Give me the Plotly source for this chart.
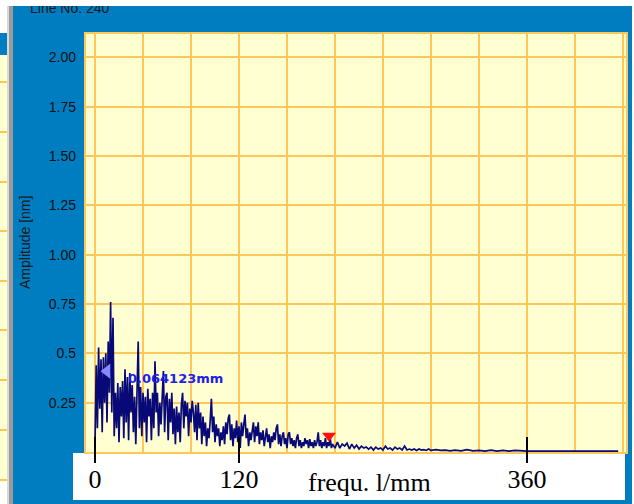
import plotly.graph_objects as go

# ---------------- data ----------------
freq = [
    0, 1, 2, 3, 4, 5, 6, 7, 8, 9,
    10, 11, 12, 13, 14, 15, 16, 17, 18, 19,
    20, 21, 22, 23, 24, 25, 26, 27, 28, 29,
    30, 31, 32, 33, 34, 35, 36, 37, 38, 39,
    40, 41, 42, 43, 44, 45, 46, 47, 48, 49,
    50, 51, 52, 53, 54, 55, 56, 57, 58, 59,
    60, 61, 62, 63, 64, 65, 66, 67, 68, 69,
    70, 71, 72, 73, 74, 75, 76, 77, 78, 79,
    80, 81, 82, 83, 84, 85, 86, 87, 88, 89,
    90, 91, 92, 93, 94, 95, 96, 97, 98, 99,
    100, 101, 102, 103, 104, 105, 106, 107, 108, 109,
    110, 111, 112, 113, 114, 115, 116, 117, 118, 119,
    120, 121, 122, 123, 124, 125, 126, 127, 128, 129,
    130, 131, 132, 133, 134, 135, 136, 137, 138, 139,
    140, 141, 142, 143, 144, 145, 146, 147, 148, 149,
    150, 151, 152, 153, 154, 155, 156, 157, 158, 159,
    160, 161, 162, 163, 164, 165, 166, 167, 168, 169,
    170, 171, 172, 173, 174, 175, 176, 177, 178, 179,
    180, 181, 182, 183, 184, 185, 186, 187, 188, 189,
    190, 191, 192, 193, 194, 195, 196, 197, 198,
    200, 202, 204, 206, 208, 210, 212, 214, 216, 218,
    220, 222, 224, 226, 228, 230, 232, 234, 236, 238,
    240, 242, 244, 246, 248, 250, 252, 254, 256, 258,
    260, 262, 264, 266, 268, 270, 272, 274, 276, 278,
    280, 284, 288, 292, 296,
    300, 305, 310, 315, 320, 325, 330, 335, 340, 345,
    350, 355, 360, 400, 436,
]
amp = [
    0.03, 0.44, 0.12, 0.53, 0.22, 0.47, 0.10, 0.48, 0.25, 0.50,
    0.15, 0.56, 0.30, 0.76, 0.20, 0.68, 0.08, 0.30, 0.12, 0.35,
    0.05, 0.33, 0.18, 0.36, 0.07, 0.42, 0.15, 0.38, 0.06, 0.40,
    0.20, 0.34, 0.10, 0.28, 0.04, 0.30, 0.56, 0.12, 0.33, 0.08,
    0.30, 0.15, 0.28, 0.05, 0.32, 0.18, 0.27, 0.06, 0.30, 0.12,
    0.46, 0.20, 0.30, 0.08, 0.25, 0.14, 0.33, 0.41, 0.10, 0.28,
    0.30, 0.06, 0.27, 0.15, 0.30, 0.09, 0.22, 0.04, 0.23, 0.10,
    0.20, 0.05, 0.24, 0.30, 0.12, 0.26, 0.18, 0.25, 0.08, 0.22,
    0.15, 0.26, 0.20, 0.10, 0.24, 0.06, 0.25, 0.12, 0.20, 0.04,
    0.18, 0.08, 0.15, 0.03, 0.12, 0.07, 0.16, 0.27, 0.10, 0.18,
    0.05, 0.14, 0.08, 0.12, 0.03, 0.10, 0.06, 0.13, 0.04, 0.15,
    0.09, 0.17, 0.19, 0.06, 0.14, 0.03, 0.12, 0.07, 0.16, 0.05,
    0.13, 0.02, 0.15, 0.08, 0.14, 0.19, 0.07, 0.12, 0.03, 0.10,
    0.06, 0.12, 0.15, 0.05, 0.13, 0.08, 0.15, 0.04, 0.10, 0.06,
    0.11, 0.03, 0.09, 0.12, 0.05, 0.09, 0.02, 0.08, 0.05, 0.10,
    0.06, 0.12, 0.14, 0.04, 0.09, 0.03, 0.08, 0.10, 0.04, 0.07,
    0.02, 0.09, 0.10, 0.04, 0.07, 0.03, 0.06, 0.02, 0.07, 0.09,
    0.03, 0.06, 0.02, 0.05, 0.03, 0.07, 0.04, 0.06, 0.02, 0.065,
    0.03, 0.05, 0.02, 0.06, 0.03, 0.05, 0.10, 0.03, 0.06, 0.02,
    0.05, 0.03, 0.07, 0.02, 0.05, 0.03, 0.07, 0.02, 0.04,
    0.02, 0.05, 0.02, 0.04, 0.03, 0.045, 0.015, 0.04, 0.02, 0.035,
    0.015, 0.03, 0.02, 0.025, 0.015, 0.025, 0.01, 0.025, 0.015, 0.02,
    0.01, 0.03, 0.015, 0.02, 0.01, 0.025, 0.015, 0.02, 0.01, 0.03,
    0.01, 0.015, 0.01, 0.015, 0.008, 0.015, 0.01, 0.012, 0.008, 0.015,
    0.008, 0.012, 0.008, 0.01, 0.006,
    0.01, 0.006, 0.012, 0.006, 0.008, 0.005, 0.01, 0.005, 0.008, 0.005,
    0.008, 0.005, 0.005, 0.005, 0.005,
]

y_tick_vals = [0.25, 0.5, 0.75, 1.0, 1.25, 1.5, 1.75, 2.0]
y_tick_text = ["0.25", "0.5", "0.75", "1.00", "1.25", "1.50", "1.75", "2.00"]
x_label_vals = [0, 120, 360]
x_label_text = ["0", "120", "360"]
x_grid_vals = [0, 40, 80, 120, 160, 200, 240, 280, 320, 360, 400, 440]
x_title = "frequ. l/mm"
x_title_at = 229
y_title = "Amplitude [nm]"
chart_label = "Line No. 240"
cursor_text = "0.064123mm"
cursor_x, cursor_y = [10], [0.41]
cursor_text_x, cursor_text_y = 25.8, 0.375
mark_x, mark_y = [195], [0.082]
x_range = [-8.33, 443.33]
y_range = [-0.005, 2.124]

# ---------------- geometry helpers (pixels -> paper) ----------------
W, H = 634, 504
L, R, T, B = 85, 627, 33, 453


def px(x):
    return (x - L) / (R - L)


def py(y):
    return (B - y) / (B - T)


BLUE = "#007DC0"
YELLOW = "#FFFFD2"
ORANGE = "#FFC65A"
NAVY = "#080876"

fig = go.Figure()
fig.add_trace(go.Scatter(x=freq, y=amp, mode="lines",
                         line=dict(color=NAVY, width=1.7), hoverinfo="skip"))
fig.add_trace(go.Scatter(x=cursor_x, y=cursor_y, mode="markers",
                         marker=dict(symbol="triangle-left", size=13,
                                     color="#8888FF"), hoverinfo="skip"))
fig.add_trace(go.Scatter(x=mark_x, y=mark_y, mode="markers",
                         marker=dict(symbol="triangle-down", size=12,
                                     color="#FF1010"), hoverinfo="skip"))


def prect(x0, y0, x1, y1, color, layer="below"):
    return dict(type="rect", xref="paper", yref="paper",
                x0=px(x0), x1=px(x1), y0=py(y1), y1=py(y0),
                fillcolor=color, line=dict(width=0), layer=layer)


shapes = []
# left neighbouring panel
shapes.append(prect(0, 0, 7, 33, "white"))
shapes.append(prect(0, 55, 7, 482, YELLOW))
for yy in [82, 132, 182, 231, 281, 330, 380, 430, 480]:
    shapes.append(dict(type="line", xref="paper", yref="paper",
                       x0=px(0), x1=px(7), y0=py(yy), y1=py(yy),
                       line=dict(color=ORANGE, width=2), layer="below"))
shapes.append(prect(0, 482, 7, 504, "white"))
shapes.append(prect(7, 6, 9, 504, "#D8D8D8"))
shapes.append(prect(9, 6, 13, 504, "#9A9A9A"))
shapes.append(prect(632, 0, 634, 504, "white"))
# white box with the frequency scale
shapes.append(prect(73, 453, 625, 500, "white"))
# plot border
shapes.append(dict(type="rect", xref="paper", yref="paper", x0=0, x1=1, y0=0, y1=1,
                   line=dict(color=ORANGE, width=2), layer="above"))
# tick marks of the frequency scale
for v in x_label_vals:
    shapes.append(dict(type="line", xref="x", yref="paper", x0=v, x1=v,
                       y0=py(463), y1=py(437), line=dict(color="black", width=2),
                       layer="above"))
# window caption (partially hidden by the top strip)
shapes.append(dict(type="rect", xref="paper", yref="paper",
                   x0=px(24), x1=px(220), y0=py(14), y1=py(0),
                   line=dict(width=0), layer="above",
                   label=dict(text=chart_label, textposition="middle left",
                              font=dict(family="Arial, Liberation Sans", size=14,
                                        color="#1A1A1A"))))
shapes.append(prect(0, 0, 634, 6, "white", layer="above"))

annotations = [
    dict(text=y_title, xref="paper", yref="paper", x=px(25), y=py(243),
         textangle=-90, showarrow=False, xanchor="center", yanchor="middle",
         font=dict(family="Arial, Liberation Sans", size=14, color="#1A1A1A")),
    dict(text=x_title, xref="x", yref="paper", x=x_title_at, y=py(482),
         showarrow=False, xanchor="center", yanchor="middle",
         font=dict(family="Liberation Serif, Times New Roman", size=26, color="black")),
    dict(text=cursor_text, xref="x", yref="y", x=cursor_text_x, y=cursor_text_y,
         showarrow=False, xanchor="left", yanchor="middle",
         font=dict(family="DejaVu Sans", size=13, color="#2020E6", weight="bold")),
]

fig.update_layout(
    width=W, height=H, autosize=False,
    margin=dict(l=L, r=W - R, t=T, b=H - B, pad=0),
    paper_bgcolor=BLUE, plot_bgcolor=YELLOW,
    showlegend=False,
    shapes=shapes, annotations=annotations,
    xaxis=dict(range=x_range, tickmode="array", tickvals=x_label_vals,
               ticktext=x_label_text, ticks="", showgrid=True,
               gridcolor=ORANGE, gridwidth=2, zeroline=False, showline=False,
               ticklabelstandoff=8,
               tickfont=dict(family="Liberation Serif, Times New Roman", size=26,
                             color="black"),
               minor=dict(tickmode="array",
                          tickvals=[v for v in x_grid_vals if v not in x_label_vals],
                          showgrid=True, gridcolor=ORANGE, gridwidth=2, ticks="")),
    yaxis=dict(range=y_range, tickmode="array", tickvals=y_tick_vals,
               ticktext=y_tick_text, ticks="", showgrid=True,
               gridcolor=ORANGE, gridwidth=2, zeroline=False, showline=False,
               ticklabelstandoff=8,
               tickfont=dict(family="Arial, Liberation Sans", size=14, color="#111111")),
)

fig.write_html("out.html", config={"displayModeBar": False},
               post_script="document.body.style.margin='0';"
                           "document.body.style.overflow='hidden';")
